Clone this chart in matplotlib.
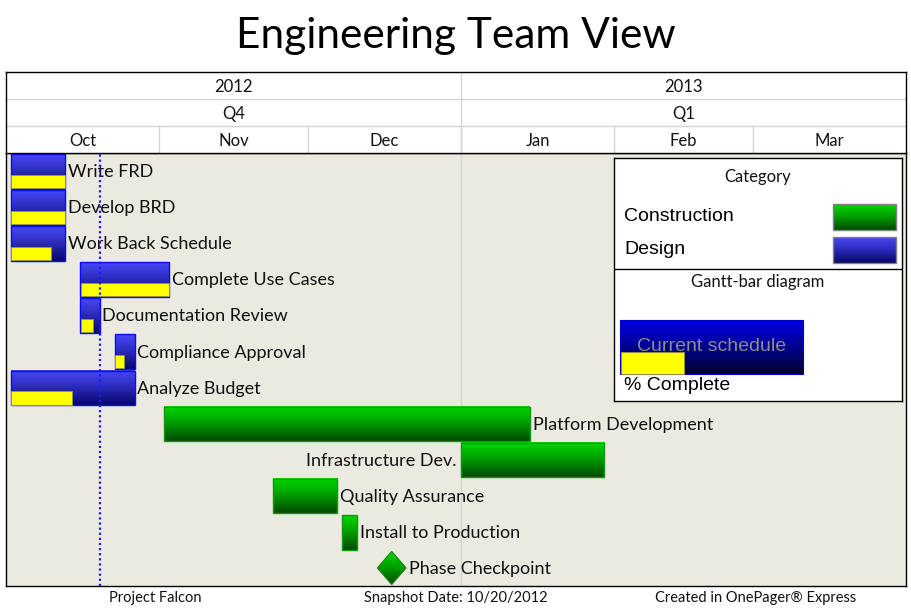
import numpy as np
import pandas as pd
import matplotlib
matplotlib.use('Agg')
import matplotlib.pyplot as plt
from matplotlib.colors import LinearSegmentedColormap
from matplotlib.patches import Rectangle, Polygon

plt.rcParams['font.family'] = ['Lato', 'DejaVu Sans']

# 数据
tasks = ['Write FRD', 'Develop BRD', 'Work Back Schedule', 'Complete Use Cases',
         'Documentation Review', 'Compliance Approval', 'Analyze Budget',
         'Platform Development', 'Infrastructure Dev.', 'Quality Assurance',
         'Install to Production', 'Phase Checkpoint']
starts = ['2012-10-02', '2012-10-02', '2012-10-02', '2012-10-16', '2012-10-16',
          '2012-10-23', '2012-10-02', '2012-11-02', '2013-01-01', '2012-11-24',
          '2012-12-08', '2012-12-18']
ends = ['2012-10-13', '2012-10-13', '2012-10-13', '2012-11-03', '2012-10-20',
        '2012-10-27', '2012-10-27', '2013-01-15', '2013-01-30', '2012-12-07',
        '2012-12-11', '2012-12-18']
progress = [1.0, 1.0, 0.75, 1.0, 0.65, 0.5, 0.5, None, None, None, None, None]
category = ['Design'] * 7 + ['Construction'] * 5
label_side = ['right'] * 8 + ['left'] + ['right'] * 3
snapshot = '2012-10-20'

months = ['Oct', 'Nov', 'Dec', 'Jan', 'Feb', 'Mar']
month_starts = ['2012-10-01', '2012-11-01', '2012-12-01', '2013-01-01', '2013-02-01', '2013-03-01', '2013-04-01']
quarters = ['Q4', 'Q1']
years = ['2012', '2013']
year_starts = ['2012-10-01', '2013-01-01', '2013-04-01']

t0 = pd.Timestamp('2012-10-01')
def day(s):
    return (pd.Timestamp(s) - t0).days

x_start = [day(s) for s in starts]
x_end = [day(e) for e in ends]
m_edges = [day(m) for m in month_starts]
y_edges = [day(m) for m in year_starts]

blue_cmap = LinearSegmentedColormap.from_list('b', ['#4848f8', '#2a2ab8', '#06066a'])
green_cmap = LinearSegmentedColormap.from_list('g', ['#00d800', '#009a00', '#004a00'])
legend_blue = LinearSegmentedColormap.from_list('lb', ['#0000e4', '#000090', '#00002e'])
cmaps = {'Design': blue_cmap, 'Construction': green_cmap}
edges = {'Design': '#0a0aff', 'Construction': '#0a9a0a'}
grad = np.linspace(0, 1, 64).reshape(-1, 1)

def grad_rect(ax, x0, x1, y0, y1, cmap, clip=None):
    im = ax.imshow(grad, cmap=cmap, extent=(x0, x1, y1, y0), aspect='auto',
                   interpolation='bilinear', zorder=2)
    if clip is not None:
        im.set_clip_path(clip)
    return im

W, H = 912, 610
fig = plt.figure(figsize=(W / 100, H / 100), dpi=100)
fig.patch.set_facecolor('white')

def box(l, t, r, b):
    return [l / W, 1 - b / H, (r - l) / W, (b - t) / H]

# 主图区域
ax = fig.add_axes(box(6, 153, 906, 586))
ax.set_facecolor('#ECE9E0')
n = len(tasks)
span = m_edges[-1]
ax.axvline(y_edges[1], color='#d4d4d4', lw=1, zorder=1)

for i in range(n):
    cmap = cmaps[category[i]]
    if x_end[i] == x_start[i]:
        # 里程碑菱形
        hw, hh = 2.9, 0.46
        cx, cy = x_start[i], i + 0.5
        poly = Polygon([(cx - hw, cy), (cx, cy - hh), (cx + hw, cy), (cx, cy + hh)],
                       closed=True, facecolor='none', edgecolor='#0a8a0a', lw=0.8, zorder=3)
        ax.add_patch(poly)
        grad_rect(ax, cx - hw, cx + hw, cy - hh, cy + hh, cmap, clip=poly)
        lx = cx + hw + 0.5
    else:
        y0, y1 = i + 0.03, i + 0.99
        grad_rect(ax, x_start[i], x_end[i], y0, y1, cmap)
        ax.add_patch(Rectangle((x_start[i], y0), x_end[i] - x_start[i], y1 - y0,
                               facecolor='none', edgecolor=edges[category[i]], lw=1, zorder=3))
        if progress[i] is not None:
            pw = (x_end[i] - x_start[i]) * progress[i]
            ax.add_patch(Rectangle((x_start[i] + 0.1, i + 0.6), pw - 0.2, 0.37,
                                   facecolor='#ffff00', edgecolor='#9a9a40', lw=0.5, zorder=3))
        lx = x_end[i] + 0.5
    if label_side[i] == 'left':
        ax.text(x_start[i] - 0.8, i + 0.53, tasks[i], ha='right', va='center',
                fontsize=13, color='#111111', zorder=4)
    else:
        ax.text(lx, i + 0.53, tasks[i], ha='left', va='center',
                fontsize=13, color='#111111', zorder=4)

ax.axvline(day(snapshot), color='#1a1aff', lw=1.6, ls=(0, (1, 1.3)), zorder=5)
ax.set_xlim(0, span)
ax.set_ylim(n, 0)
ax.set_xticks([])
ax.set_yticks([])
for sp in ax.spines.values():
    sp.set_color('black')
    sp.set_linewidth(1)

# 时间轴表头
ah = fig.add_axes(box(6, 72, 906, 153))
ah.set_xlim(0, span)
ah.set_ylim(3, 0)
ah.set_xticks([])
ah.set_yticks([])
for sp in ah.spines.values():
    sp.set_color('black')
    sp.set_linewidth(1)
ah.axhline(1, color='#d4d4d4', lw=1)
ah.axhline(2, color='#d4d4d4', lw=1)
for k in range(len(years)):
    a, b = y_edges[k], y_edges[k + 1]
    if k > 0:
        ah.axvline(a, color='#d4d4d4', lw=1)
    ah.text((a + b) / 2, 0.55, years[k], ha='center', va='center', fontsize=12, color='#111111')
    ah.text((a + b) / 2, 1.55, quarters[k], ha='center', va='center', fontsize=12, color='#111111')
for k in range(len(months)):
    a, b = m_edges[k], m_edges[k + 1]
    if k > 0:
        ah.plot([a, a], [2, 3], color='#d4d4d4', lw=1)
    ah.text((a + b) / 2, 2.55, months[k], ha='center', va='center', fontsize=12, color='#111111')

# 图例
al = fig.add_axes(box(614, 158, 902, 401))
al.set_xticks([])
al.set_yticks([])
al.set_facecolor('white')
for sp in al.spines.values():
    sp.set_color('black')
    sp.set_linewidth(1)
al.text(144, 19, 'Category', ha='center', va='center', fontsize=12, color='#111111')
for lab, yy, cm in [('Construction', 58, green_cmap), ('Design', 91, blue_cmap)]:
    al.text(10, yy, lab, ha='left', va='center', fontsize=14,
            family=['Liberation Sans', 'DejaVu Sans'], color='black')
    grad_rect(al, 219, 282, yy - 12, yy + 14, cm)
    al.add_patch(Rectangle((219, yy - 12), 63, 26, facecolor='none',
                           edgecolor='#808080', lw=1, zorder=3))
al.axhline(111, color='black', lw=1)
al.text(144, 124, 'Gantt-bar diagram', ha='center', va='center', fontsize=12, color='#111111')
grad_rect(al, 6, 189, 162, 216, legend_blue)
al.add_patch(Rectangle((6, 162), 183, 54, facecolor='none', edgecolor='#0000c0', lw=0.8, zorder=3))
al.text(97.5, 188, 'Current schedule', ha='center', va='center', fontsize=14,
        family=['Liberation Sans', 'DejaVu Sans'], color='#8c8c8c', zorder=4)
al.add_patch(Rectangle((7, 194), 63, 22, facecolor='#ffff00', edgecolor='#9a9a40', lw=0.5, zorder=5))
al.text(10, 227, '% Complete', ha='left', va='center', fontsize=14,
        family=['Liberation Sans', 'DejaVu Sans'], color='black')
al.set_xlim(0, 288)
al.set_ylim(243, 0)

# 标题和页脚
fig.text(0.5, 1 - 36 / H, 'Engineering Team View', ha='center', va='center', fontsize=30.5, color='black')
fy = 1 - 598 / H
fig.text(155.5 / W, fy, 'Project Falcon', ha='center', va='center', fontsize=10.5, color='#111111')
fig.text(455.5 / W, fy, 'Snapshot Date: 10/20/2012', ha='center', va='center', fontsize=10.5, color='#111111')
fig.text(756 / W, fy, 'Created in OnePager® Express', ha='center', va='center', fontsize=10.5, color='#111111')

fig.savefig('out.png', dpi=100)
